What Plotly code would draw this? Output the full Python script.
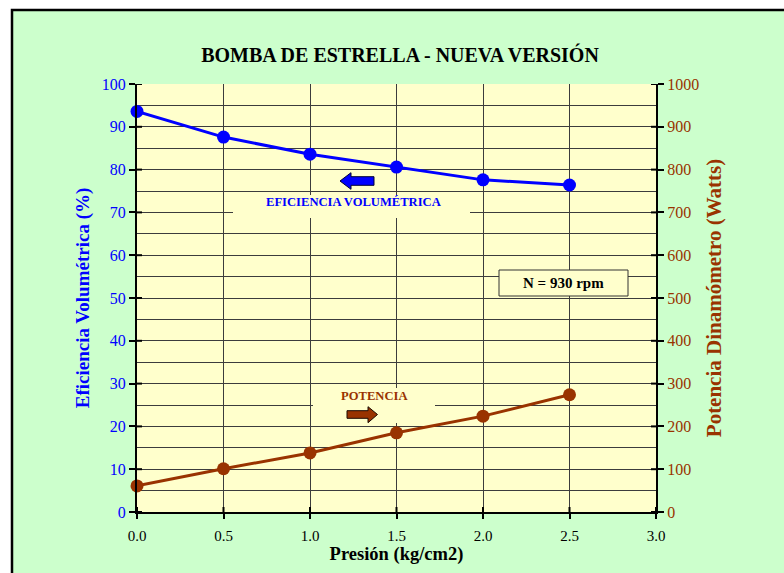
import plotly.graph_objects as go

# Pump test data
presion = [0.0, 0.5, 1.0, 1.5, 2.0, 2.5]
eficiencia = [93.6, 87.6, 83.6, 80.6, 77.6, 76.4]
potencia = [61, 101, 138, 185, 224, 274]

x_ticks = [0.0, 0.5, 1.0, 1.5, 2.0, 2.5, 3.0]

BLUE = "#0000FF"
BROWN = "#993300"
FONT = "Liberation Serif"
PLOT_BG = "#FFFFCC"
PAPER_BG = "#CCFFCC"
GRID = "#3c3c3c"

# plot-area geometry (pixels) used to place decorations in axis units
L, R, T, B = 137, 656, 84, 512


def fx(px):
    return (px - L) / (R - L) * 3.0


def fy(py):
    return (B - py) / (B - T) * 100.0


def px_paper(px):
    return (px - L) / (R - L)


def py_paper(py):
    return (B - py) / (B - T)


fig = go.Figure()

fig.add_trace(go.Scatter(
    x=presion, y=eficiencia, mode="lines+markers",
    line=dict(color=BLUE, width=3),
    marker=dict(color=BLUE, size=13),
    cliponaxis=False, showlegend=False, yaxis="y",
))
fig.add_trace(go.Scatter(
    x=presion, y=potencia, mode="lines+markers",
    line=dict(color=BROWN, width=3),
    marker=dict(color=BROWN, size=13),
    cliponaxis=False, showlegend=False, yaxis="y2",
))

shapes = []

# outer frame: white outside the green panel, black border line
shapes.append(dict(type="rect", xref="paper", yref="paper",
                   x0=-2, x1=px_paper(12), y0=-2, y1=3,
                   fillcolor="white", line=dict(width=0), layer="above"))
shapes.append(dict(type="rect", xref="paper", yref="paper",
                   x0=-2, x1=3, y0=py_paper(10), y1=3,
                   fillcolor="white", line=dict(width=0), layer="above"))
shapes.append(dict(type="rect", xref="paper", yref="paper",
                   x0=px_paper(12), x1=3, y0=-2, y1=py_paper(10),
                   fillcolor="rgba(0,0,0,0)", line=dict(color="black", width=2.5),
                   layer="above"))

# label backgrounds hiding the gridlines
shapes.append(dict(type="rect", xref="x", yref="y",
                   x0=fx(233), x1=fx(470), y0=fy(218), y1=fy(195),
                   fillcolor=PLOT_BG, line=dict(width=0), layer="between"))
shapes.append(dict(type="rect", xref="x", yref="y",
                   x0=fx(313), x1=fx(435), y0=fy(423), y1=fy(388),
                   fillcolor=PLOT_BG, line=dict(width=0), layer="between"))

# N = 930 rpm box
shapes.append(dict(type="rect", xref="x", yref="y",
                   x0=fx(499), x1=fx(628), y0=fy(296), y1=fy(270),
                   fillcolor=PLOT_BG, line=dict(color="#333333", width=1),
                   layer="above"))

# inner halves of the axis tick marks (ticks cross the axis lines)
for v in range(0, 101, 10):
    shapes.append(dict(type="line", xref="paper", yref="y",
                       x0=0, x1=px_paper(L + 5), y0=v, y1=v,
                       line=dict(color="black", width=2), layer="above"))
    shapes.append(dict(type="line", xref="paper", yref="y",
                       x0=1, x1=px_paper(R - 5), y0=v, y1=v,
                       line=dict(color="black", width=2), layer="above"))
for v in x_ticks:
    shapes.append(dict(type="line", xref="x", yref="paper",
                       x0=v, x1=v, y0=0, y1=py_paper(B - 5),
                       line=dict(color="black", width=2), layer="above"))


def arrow_path(pts):
    return "M " + " L ".join(f"{fx(a):.4f},{fy(b):.4f}" for a, b in pts) + " Z"


# block arrow pointing left (efficiency -> left axis)
shapes.append(dict(type="path", xref="x", yref="y",
                   path=arrow_path([(340, 181), (351, 172.7), (351, 176.7),
                                    (374, 176.7), (374, 185.3), (351, 185.3),
                                    (351, 189.3)]),
                   fillcolor=BLUE, line=dict(color="#000033", width=1),
                   layer="above"))
# block arrow pointing right (power -> right axis)
shapes.append(dict(type="path", xref="x", yref="y",
                   path=arrow_path([(377.5, 414.5), (368, 406.7), (368, 410.7),
                                    (347, 410.7), (347, 418.3), (368, 418.3),
                                    (368, 422.7)]),
                   fillcolor=BROWN, line=dict(color="#1a0800", width=1),
                   layer="above"))

annotations = [
    dict(x=fx(353), y=fy(202), xref="x", yref="y", showarrow=False,
         text="<b>EFICIENCIA VOLUMÉTRICA</b>",
         font=dict(family=FONT, size=12.6, color=BLUE)),
    dict(x=fx(374), y=fy(396), xref="x", yref="y", showarrow=False,
         text="<b>POTENCIA</b>",
         font=dict(family=FONT, size=12.6, color=BROWN)),
    dict(x=fx(563), y=fy(283), xref="x", yref="y", showarrow=False,
         text="<b>N = 930 rpm</b>",
         font=dict(family=FONT, size=15, color="black")),
]

fig.update_layout(
    width=784, height=573,
    margin=dict(l=L, r=784 - R, t=T, b=573 - B),
    paper_bgcolor=PAPER_BG,
    plot_bgcolor=PLOT_BG,
    font=dict(family=FONT, color="black"),
    title=dict(text="<b>BOMBA DE ESTRELLA - NUEVA VERSIÓN</b>",
               x=400 / 784, xanchor="center",
               y=1 - 55 / 573, yanchor="middle",
               font=dict(family=FONT, size=20, color="black")),
    xaxis=dict(
        range=[0, 3], tickvals=x_ticks, tickformat=".1f",
        showline=True, linecolor="black", linewidth=2, mirror=False,
        ticks="outside", ticklen=5, tickcolor="black", tickwidth=2,
        ticklabelstandoff=4,
        showgrid=True, gridcolor=GRID, gridwidth=1, zeroline=False,
        tickfont=dict(family=FONT, size=15, color="black"),
        title=dict(text="<b>Presión (kg/cm2)</b>", standoff=3,
                   font=dict(family=FONT, size=18.5, color="black")),
    ),
    yaxis=dict(
        range=[0, 100], dtick=10,
        showline=True, linecolor="black", linewidth=2,
        ticks="outside", ticklen=6, tickcolor="black", tickwidth=2,
        showgrid=True, gridcolor=GRID, gridwidth=1, zeroline=False,
        minor=dict(dtick=5, showgrid=True, gridcolor=GRID, gridwidth=1),
        tickfont=dict(family=FONT, size=16, color=BLUE),
        title=dict(text="<b>Eficiencia Volumétrica (%)</b>", standoff=7,
                   font=dict(family=FONT, size=19, color=BLUE)),
    ),
    yaxis2=dict(
        range=[0, 1000], dtick=100, overlaying="y", side="right",
        showline=True, linecolor="black", linewidth=2,
        ticks="outside", ticklen=6, tickcolor="black", tickwidth=2,
        showgrid=False, zeroline=False,
        tickfont=dict(family=FONT, size=16, color=BROWN),
        title=dict(text="<b>Potencia Dinamómetro (Watts)</b>", standoff=8,
                   font=dict(family=FONT, size=21, color=BROWN)),
    ),
    shapes=shapes,
    annotations=annotations,
)

fig.write_html("out.html")
